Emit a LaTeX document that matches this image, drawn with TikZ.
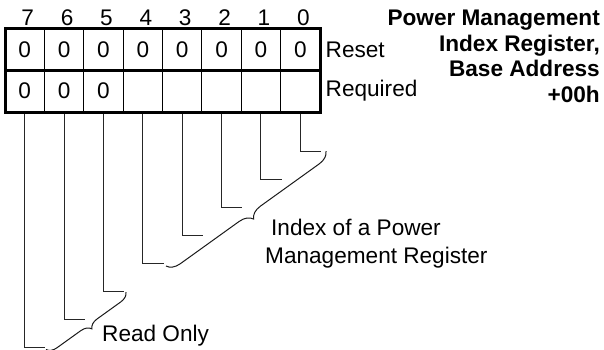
\documentclass[tikz,border=0pt]{standalone}
\usepackage{fontspec}
\setmainfont{Liberation Sans}
\usetikzlibrary{decorations.pathreplacing}
\begin{document}
\begin{tikzpicture}[x=1pt,y=-1pt,
  txt/.style={font=\fontsize{22.6}{25}\selectfont, inner sep=0pt},
  ttl/.style={font=\fontsize{22.6}{25.5}\selectfont\bfseries, inner sep=0pt, align=right},
  thick border/.style={line width=3pt},
  thin grid/.style={line width=1pt},
  leader/.style={line width=1pt, draw=black!85},
  bracestyle/.style={line width=1pt, draw=black!90, decorate, decoration={brace, amplitude=#1}}
]
\useasboundingbox (0,0) rectangle (604,349);
% grid
\foreach \k in {1,...,7}{
  \draw[thin grid] ({5+\k*39.375},28) -- ({5+\k*39.375},112);
}
\draw[thick border] (5,70) -- (320,70);
\draw[thick border] (5,28) rectangle (320,112);
% bit numbers, cells, leaders
\foreach \i in {0,...,7}{
  \pgfmathsetmacro{\cx}{5+(7-\i+0.5)*39.375}
  \pgfmathsetmacro{\rx}{5+(8-\i)*39.375+1}
  \pgfmathsetmacro{\ly}{151+28.1*\i}
  \node[txt, anchor=base] (n\i) at (\cx+3,25) {\i};
  \node[txt] (r\i) at (\cx,50) {0};
  \coordinate (top\i) at (\cx,113.5);
  \coordinate (bot\i) at (\cx,\ly);
  \coordinate (end\i) at (\rx,\ly);
  \draw[leader] (top\i) -- (bot\i) -- (end\i);
}
\foreach \i in {5,6,7}{
  \pgfmathsetmacro{\cx}{5+(7-\i+0.5)*39.375}
  \node[txt] (q\i) at (\cx,91) {0};
}
\node[txt, anchor=west] (reset) at (325.5,50) {Reset};
\node[txt, anchor=west] (req) at (325.5,91) {Required};
\node[ttl, anchor=north east] (title) at (600,10) {Power Management\\Index Register,\\Base Address\\+00h};
% braces
\coordinate (ia) at (326,151);
\coordinate (ib) at (166,266);
\draw[bracestyle=13] (ia) -- (ib);
\coordinate (ra) at (126,292);
\coordinate (rb) at (46,349.5);
\draw[bracestyle=10] (ra) -- (rb);
\node[txt, anchor=base west] (idx1) at (271,235) {Index of a Power};
\node[txt, anchor=base west] (idx2) at (265,263) {Management Register};
\node[txt, anchor=base west] (ro) at (102,341) {Read Only};
\end{tikzpicture}
\end{document}
